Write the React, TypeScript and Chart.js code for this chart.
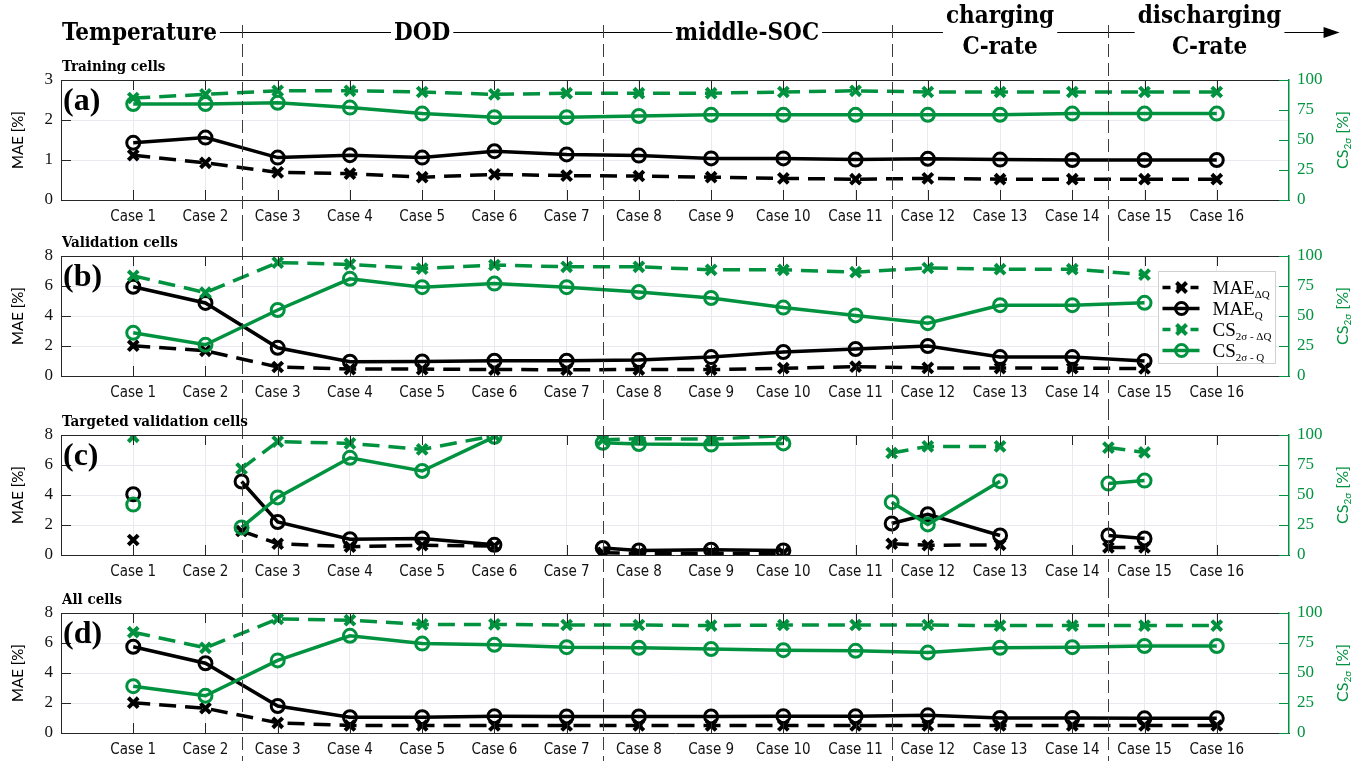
import React, { useEffect, useRef } from 'react';
import { Chart, registerables } from 'chart.js';

Chart.register(...registerables);

// ---------- data ----------
const caseX = [1, 2, 3, 4, 5, 6, 7, 8, 9, 10, 11, 12, 13, 14, 15, 16];
const caseLabels = caseX.map((n) => `Case ${n}`);
const groupBoundaries = [2.5, 7.5, 11.5, 14.5];

const headerLabels = [['Temperature'], ['DOD'], ['middle-SOC'], ['charging', 'C-rate'], ['discharging', 'C-rate']];
const headerAnchors = [0, 5, 9.5, 13, 15.9];

// (a) training cells
const aMaeDQ = [1.12, 0.93, 0.69, 0.66, 0.57, 0.64, 0.61, 0.6, 0.57, 0.54, 0.52, 0.54, 0.52, 0.52, 0.52, 0.52];
const aMaeQ = [1.43, 1.56, 1.06, 1.12, 1.06, 1.22, 1.14, 1.11, 1.04, 1.04, 1.01, 1.03, 1.01, 1.0, 1.0, 1.0];
const aCsDQ = [85, 88, 91, 91, 90, 88, 89, 89, 89, 90, 91, 90, 90, 90, 90, 90];
const aCsQ = [80, 80, 81, 77, 72, 69, 69, 70, 71, 71, 71, 71, 71, 72, 72, 72];

// (b) validation cells
const bMaeDQ = [2.02, 1.68, 0.6, 0.46, 0.46, 0.43, 0.42, 0.43, 0.43, 0.52, 0.62, 0.54, 0.53, 0.52, 0.5, null];
const bMaeQ = [5.95, 4.87, 1.88, 0.95, 0.97, 1.02, 1.02, 1.06, 1.26, 1.6, 1.8, 2.0, 1.26, 1.26, 1.0, null];
const bCsDQ = [83.5, 69.5, 94.5, 93, 89.5, 92.5, 91, 91, 88.5, 88.5, 86.5, 90, 89, 89, 84.5, null];
const bCsQ = [36, 26, 55, 81, 74, 77, 74, 70, 65, 57, 50.5, 44, 59, 59, 61, null];

// (c) targeted validation cells (group-boundary points included, null = break)
const cX = [1, 2, 2.5, 3, 4, 5, 6, 7, 7.5, 8, 9, 10, 11, 11.5, 12, 13, 14, 14.5, 15];
const cMaeDQ = [1.0, null, 1.6, 0.75, 0.55, 0.65, 0.6, null, 0.15, 0.1, 0.12, 0.12, null, 0.75, 0.65, 0.68, null, 0.5, 0.5];
const cMaeQ = [4.05, null, 4.9, 2.2, 1.05, 1.1, 0.68, null, 0.47, 0.3, 0.35, 0.3, null, 2.1, 2.72, 1.3, null, 1.3, 1.1];
const cCsDQ = [98.5, null, 72, 94.5, 93, 88, 99.5, null, 96, 97, 96.5, 99.5, null, 85, 90.5, 90.5, null, 89.5, 85.5];
const cCsQ = [42, null, 23, 48, 81, 70, 98.5, null, 93.5, 92.5, 92, 93, null, 44, 25.5, 61.5, null, 59.5, 62];

// (d) all cells
const dMaeDQ = [2.02, 1.65, 0.68, 0.5, 0.5, 0.5, 0.5, 0.5, 0.5, 0.5, 0.5, 0.5, 0.5, 0.5, 0.5, 0.5];
const dMaeQ = [5.75, 4.65, 1.8, 1.05, 1.05, 1.12, 1.1, 1.1, 1.1, 1.12, 1.12, 1.18, 1.0, 1.0, 0.98, 0.98];
const dCsDQ = [84, 71, 95, 94, 90.5, 90.5, 90, 90, 89.5, 90, 90, 90, 89.5, 89.5, 89.5, 89.5];
const dCsQ = [39, 31, 60.5, 81, 74.5, 73.5, 71.5, 71, 70, 69, 68.5, 67, 71, 71.5, 72.5, 72.5];

// ---------- styles ----------
const GREEN = '#00923f';
const AXIS = '#262626';
const GRID = '#ece8f0';
const W = 1365;
const serif = '"Liberation Serif", "DejaVu Serif", serif';
const condSans = '"DejaVu Sans Condensed", "DejaVu Sans", sans-serif';
const condSerif = '"DejaVu Serif Condensed", "DejaVu Serif", serif';
const sans = 'Lato, "DejaVu Sans", sans-serif';
const DASH = [17, 9];

type PanelCfg = {
  key: string;
  top: number;
  height: number;
  padTop: number;
  xAxisH: number;
  maeMax: number;
  maeStep: number;
  title: string;
  tag: string;
  xs: number[];
  maeDQ: (number | null)[];
  maeQ: (number | null)[];
  csDQ: (number | null)[];
  csQ: (number | null)[];
  header: boolean;
  legend: boolean;
};

const panels: PanelCfg[] = [
  { key: 'a', top: 0, height: 228, padTop: 80, xAxisH: 28, maeMax: 3, maeStep: 1, title: 'Training cells', tag: '(a)', xs: caseX, maeDQ: aMaeDQ, maeQ: aMaeQ, csDQ: aCsDQ, csQ: aCsQ, header: true, legend: false },
  { key: 'b', top: 228, height: 179, padTop: 28, xAxisH: 31, maeMax: 8, maeStep: 2, title: 'Validation cells', tag: '(b)', xs: caseX, maeDQ: bMaeDQ, maeQ: bMaeQ, csDQ: bCsDQ, csQ: bCsQ, header: false, legend: true },
  { key: 'c', top: 407, height: 178, padTop: 28, xAxisH: 30, maeMax: 8, maeStep: 2, title: 'Targeted validation cells', tag: '(c)', xs: cX, maeDQ: cMaeDQ, maeQ: cMaeQ, csDQ: cCsDQ, csQ: cCsQ, header: false, legend: false },
  { key: 'd', top: 585, height: 176, padTop: 28, xAxisH: 28, maeMax: 8, maeStep: 2, title: 'All cells', tag: '(d)', xs: caseX, maeDQ: dMaeDQ, maeQ: dMaeQ, csDQ: dCsDQ, csQ: dCsQ, header: false, legend: false },
];

const legendItems = [
  { main: 'MAE', sub: 'ΔQ', color: '#000', dashed: true, marker: 'x' },
  { main: 'MAE', sub: 'Q', color: '#000', dashed: false, marker: 'o' },
  { main: 'CS', sub: '2σ - ΔQ', color: GREEN, dashed: true, marker: 'x' },
  { main: 'CS', sub: '2σ - Q', color: GREEN, dashed: false, marker: 'o' },
];

function pts(xs: number[], ys: (number | null)[]) {
  return xs.map((x, i) => ({ x, y: ys[i] }));
}

function drawMarker(ctx: CanvasRenderingContext2D, kind: string, x: number, y: number, color: string) {
  ctx.save();
  ctx.setLineDash([]);
  ctx.strokeStyle = color;
  if (kind === 'x') {
    ctx.lineWidth = 4;
    const r = 5;
    ctx.beginPath();
    ctx.moveTo(x - r, y - r);
    ctx.lineTo(x + r, y + r);
    ctx.moveTo(x - r, y + r);
    ctx.lineTo(x + r, y - r);
    ctx.stroke();
  } else {
    ctx.lineWidth = 3;
    ctx.beginPath();
    ctx.arc(x, y, 6, 0, Math.PI * 2);
    ctx.stroke();
  }
  ctx.restore();
}

function makeDecor(p: PanelCfg) {
  return {
    id: 'decor' + p.key,
    afterDraw(chart: any) {
      const ctx: CanvasRenderingContext2D = chart.ctx;
      const ca = chart.chartArea;
      const xs = chart.scales.x;
      const ys = chart.scales.y;
      const ys1 = chart.scales.y1;
      ctx.save();

      // header
      if (p.header) {
        const hy = 32.5;
        const tipX = xs.getPixelForValue(17.7);
        ctx.strokeStyle = '#000';
        ctx.lineWidth = 1.2;
        ctx.beginPath();
        ctx.moveTo(ca.left, hy);
        ctx.lineTo(tipX - 8, hy);
        ctx.stroke();
        ctx.fillStyle = '#000';
        ctx.beginPath();
        ctx.moveTo(tipX, hy);
        ctx.lineTo(tipX - 16, hy - 5.5);
        ctx.lineTo(tipX - 16, hy + 5.5);
        ctx.closePath();
        ctx.fill();
        ctx.font = `bold 24px ${condSerif}`;
        ctx.textBaseline = 'alphabetic';
        headerLabels.forEach((lines, i) => {
          const widths = lines.map((l) => ctx.measureText(l).width);
          const wMax = Math.max(...widths);
          if (i === 0) {
            const x0 = ca.left + 1;
            ctx.fillStyle = '#fff';
            ctx.fillRect(0, 10, x0 + wMax + 3, 40);
            ctx.fillStyle = '#000';
            ctx.textAlign = 'left';
            ctx.fillText(lines[0], x0, 40);
          } else {
            const cx = xs.getPixelForValue(headerAnchors[i]);
            ctx.fillStyle = '#fff';
            ctx.fillRect(cx - wMax / 2 - 3, 10, wMax + 6, 40);
            ctx.fillStyle = '#000';
            ctx.textAlign = 'center';
            if (lines.length === 1) {
              ctx.fillText(lines[0], cx, 40);
            } else {
              ctx.fillText(lines[0], cx, 23);
              ctx.fillText(lines[1], cx, 54);
            }
          }
        });
      }

      // group boundary dashed lines
      ctx.strokeStyle = '#3c3c3c';
      ctx.lineWidth = 1;
      ctx.setLineDash([13, 6]);
      groupBoundaries.forEach((b) => {
        const px = Math.round(xs.getPixelForValue(b)) + 0.5;
        ctx.beginPath();
        ctx.moveTo(px, p.header ? 25 : 0);
        ctx.lineTo(px, chart.height);
        ctx.stroke();
      });
      ctx.setLineDash([]);

      // frame top
      ctx.strokeStyle = AXIS;
      ctx.lineWidth = 1;
      ctx.beginPath();
      ctx.moveTo(ca.left, Math.round(ca.top) + 0.5);
      ctx.lineTo(ca.right, Math.round(ca.top) + 0.5);
      ctx.stroke();

      // inward ticks
      const tl = 10;
      ctx.beginPath();
      caseX.forEach((v) => {
        const px = Math.round(xs.getPixelForValue(v)) + 0.5;
        ctx.moveTo(px, ca.bottom);
        ctx.lineTo(px, ca.bottom - tl);
        ctx.moveTo(px, ca.top);
        ctx.lineTo(px, ca.top + tl);
      });
      ys.ticks.forEach((t: any) => {
        const py = Math.round(ys.getPixelForValue(t.value)) + 0.5;
        ctx.moveTo(ca.left, py);
        ctx.lineTo(ca.left + tl, py);
      });
      ctx.stroke();
      ctx.strokeStyle = GREEN;
      ctx.beginPath();
      ys1.ticks.forEach((t: any) => {
        const py = Math.round(ys1.getPixelForValue(t.value)) + 0.5;
        ctx.moveTo(ca.right, py);
        ctx.lineTo(ca.right - tl, py);
      });
      ctx.stroke();

      // panel title and tag
      ctx.fillStyle = '#000';
      ctx.textAlign = 'left';
      ctx.textBaseline = 'middle';
      ctx.font = `bold 15px ${condSerif}`;
      ctx.fillText(p.title, ca.left + 1, ca.top - 13);
      ctx.font = `bold 32px ${serif}`;
      ctx.fillText(p.tag, ca.left + 2, ca.top + 22);

      // axis titles
      const cy = (ca.top + ca.bottom) / 2;
      ctx.save();
      ctx.translate(18, cy);
      ctx.rotate(-Math.PI / 2);
      ctx.textAlign = 'center';
      ctx.font = `15px ${sans}`;
      ctx.fillText('MAE [%]', 0, 0);
      ctx.restore();

      ctx.save();
      ctx.translate(1343, cy);
      ctx.rotate(-Math.PI / 2);
      ctx.fillStyle = GREEN;
      ctx.textBaseline = 'middle';
      ctx.textAlign = 'left';
      ctx.font = `16px ${sans}`;
      const w1 = ctx.measureText('CS').width;
      ctx.font = `10px ${sans}`;
      const w2 = ctx.measureText('2σ').width;
      ctx.font = `16px ${sans}`;
      const w3 = ctx.measureText(' [%]').width;
      const x0 = -(w1 + w2 + w3) / 2;
      ctx.fillText('CS', x0, 0);
      ctx.font = `10px ${sans}`;
      ctx.fillText('2σ', x0 + w1, 5);
      ctx.font = `16px ${sans}`;
      ctx.fillText(' [%]', x0 + w1 + w2, 0);
      ctx.restore();

      // legend
      if (p.legend) {
        const lw = 117;
        const lh = 92;
        const lx = Math.round(ca.right - 131) + 0.5;
        const ly = Math.round(ca.top + 15) + 0.5;
        ctx.fillStyle = '#fff';
        ctx.fillRect(lx, ly, lw, lh);
        ctx.strokeStyle = '#d0d0d0';
        ctx.lineWidth = 1;
        ctx.strokeRect(lx, ly, lw, lh);
        legendItems.forEach((it, i) => {
          const yy = ly + 16 + i * 21;
          ctx.strokeStyle = it.color;
          ctx.lineWidth = 3.5;
          ctx.setLineDash(it.dashed ? [8, 6] : []);
          ctx.beginPath();
          ctx.moveTo(lx + 4, yy);
          ctx.lineTo(lx + 41, yy);
          ctx.stroke();
          ctx.setLineDash([]);
          drawMarker(ctx, it.marker, lx + 23, yy, it.color);
          ctx.fillStyle = '#000';
          ctx.textAlign = 'left';
          ctx.textBaseline = 'alphabetic';
          ctx.font = `19px ${serif}`;
          ctx.fillText(it.main, lx + 54, yy + 6);
          const mw = ctx.measureText(it.main).width;
          ctx.font = `11px ${serif}`;
          ctx.fillText(it.sub, lx + 54 + mw, yy + 10);
        });
      }

      ctx.restore();
    },
  };
}

function buildChart(canvas: HTMLCanvasElement, p: PanelCfg) {
  const common = { pointHitRadius: 0, spanGaps: false, tension: 0 };
  const line = (label: string, data: any, axis: string, color: string, dashed: boolean, marker: string, order: number) => ({
    ...common,
    label,
    data,
    yAxisID: axis,
    borderColor: color,
    borderWidth: 3.5,
    borderDash: dashed ? DASH : [],
    pointStyle: marker === 'x' ? 'crossRot' : 'circle',
    pointRadius: marker === 'x' ? 7 : 6.5,
    pointBorderWidth: marker === 'x' ? 4 : 3,
    pointBorderColor: color,
    pointBackgroundColor: 'rgba(0,0,0,0)',
    order,
  });
  return new Chart(canvas, {
    type: 'line',
    data: {
      datasets: [
        line('MAE_ΔQ', pts(p.xs, p.maeDQ), 'y', '#000', true, 'x', 4),
        line('MAE_Q', pts(p.xs, p.maeQ), 'y', '#000', false, 'o', 3),
        line('CS_ΔQ', pts(p.xs, p.csDQ), 'y1', GREEN, true, 'x', 2),
        line('CS_Q', pts(p.xs, p.csQ), 'y1', GREEN, false, 'o', 1),
      ],
    },
    options: {
      animation: false,
      responsive: false,
      maintainAspectRatio: false,
      events: [],
      layout: { padding: { top: p.padTop, left: 0, right: 0, bottom: 0 } },
      plugins: {
        legend: { display: false },
        title: { display: false },
        tooltip: { enabled: false },
      },
      scales: {
        x: {
          type: 'linear',
          min: 0,
          max: 17,
          afterBuildTicks: (s: any) => {
            s.ticks = caseX.map((v) => ({ value: v }));
          },
          afterFit: (s: any) => {
            s.height = p.xAxisH;
          },
          ticks: {
            autoSkip: false,
            maxRotation: 0,
            minRotation: 0,
            padding: 8,
            color: '#111',
            font: { family: condSans, size: 15 },
            callback: (v: any) => {
              const i = caseX.indexOf(Number(v));
              return i >= 0 ? caseLabels[i] : '';
            },
          },
          grid: { color: GRID, drawTicks: false, lineWidth: 1 },
          border: { color: AXIS, width: 1 },
        },
        y: {
          position: 'left',
          min: 0,
          max: p.maeMax,
          afterFit: (s: any) => {
            s.width = 61;
          },
          ticks: { stepSize: p.maeStep, padding: 8, color: '#111', font: { family: serif, size: 17 } },
          grid: { color: GRID, drawTicks: false, lineWidth: 1 },
          border: { color: AXIS, width: 1 },
        },
        y1: {
          position: 'right',
          min: 0,
          max: 100,
          afterFit: (s: any) => {
            s.width = 76;
          },
          ticks: { stepSize: 25, padding: 8, color: GREEN, font: { family: serif, size: 17 } },
          grid: { drawOnChartArea: false, drawTicks: false },
          border: { color: GREEN, width: 1.5 },
        },
      },
    } as any,
    plugins: [makeDecor(p)],
  });
}

export default function App() {
  const refs = useRef<(HTMLCanvasElement | null)[]>([]);
  useEffect(() => {
    const charts = panels.map((p, i) => buildChart(refs.current[i] as HTMLCanvasElement, p));
    return () => charts.forEach((c) => c.destroy());
  }, []);
  return (
    <div style={{ position: 'absolute', left: 0, top: 0, width: W, height: 761, background: '#fff', overflow: 'hidden' }}>
      {panels.map((p, i) => (
        <canvas
          key={p.key}
          ref={(el) => {
            refs.current[i] = el;
          }}
          width={W}
          height={p.height}
          style={{ position: 'absolute', left: 0, top: p.top, width: W, height: p.height, display: 'block' }}
        />
      ))}
    </div>
  );
}
